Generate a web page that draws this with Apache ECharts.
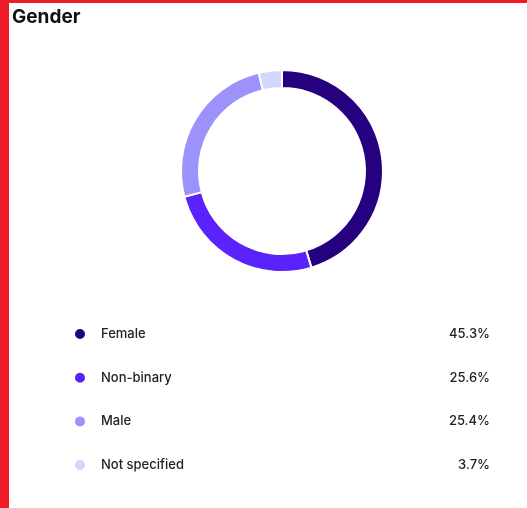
<!DOCTYPE html>
<html><head><meta charset="utf-8">
<script src="https://cdn.jsdelivr.net/npm/echarts@6/dist/echarts.min.js"></script>
<style>
html,body{margin:0;padding:0;background:#fff;}
#wrap{position:absolute;left:0;top:0;width:527px;height:508px;background:#fff;}
#bl{position:absolute;left:0;top:0;width:9px;height:508px;background:#ee1c25;}
#bt{position:absolute;left:0;top:0;width:527px;height:3px;background:#ee1c25;}
#c{position:absolute;left:0;top:0;width:527px;height:508px;}
</style></head>
<body><div id="wrap"><div id="c"></div><div id="bl"></div><div id="bt"></div></div>
<script>
const title = 'Gender';
const categories = ['Female', 'Non-binary', 'Male', 'Not specified'];
const values = [45.3, 25.6, 25.4, 3.7];
const colors = ['#25007f', '#5a22fc', '#9b93fb', '#d5d6fd'];

const chart = echarts.init(document.getElementById('c'));
const data = categories.map((n, i) => ({ name: n, value: values[i], itemStyle: { color: colors[i] } }));
chart.setOption({
  animation: false,
  title: { text: title, left: 12, top: 8, padding: 0, textStyle: { fontFamily: 'Inter', fontWeight: 'bold', fontSize: 19, color: '#111' } },
  legend: {
    orient: 'vertical', left: 73, top: 327, itemGap: 29.7, padding: 0,
    icon: 'circle', itemWidth: 12, itemHeight: 12,
    data: categories,
    formatter: function (name) {
      const i = categories.indexOf(name);
      return '{n|' + name + '}{v|' + values[i].toFixed(1) + '%}';
    },
    textStyle: {
      fontFamily: 'Inter', fontSize: 13, color: '#222',
      rich: {
        n: { fontFamily: 'Inter', fontSize: 13, fontWeight: 500, color: '#222', width: 289, padding: [0, 0, 0, 10] },
        v: { fontFamily: 'Inter', fontSize: 13, fontWeight: 500, color: '#222', width: 100, align: 'right' }
      }
    }
  },
  series: [{
    type: 'pie', radius: [83, 101], center: [282, 171], startAngle: 90, clockwise: true,
    label: { show: false }, labelLine: { show: false },
    itemStyle: { borderColor: '#fff', borderWidth: 2 },
    emphasis: { disabled: true },
    data: data
  }]
});
</script></body></html>
